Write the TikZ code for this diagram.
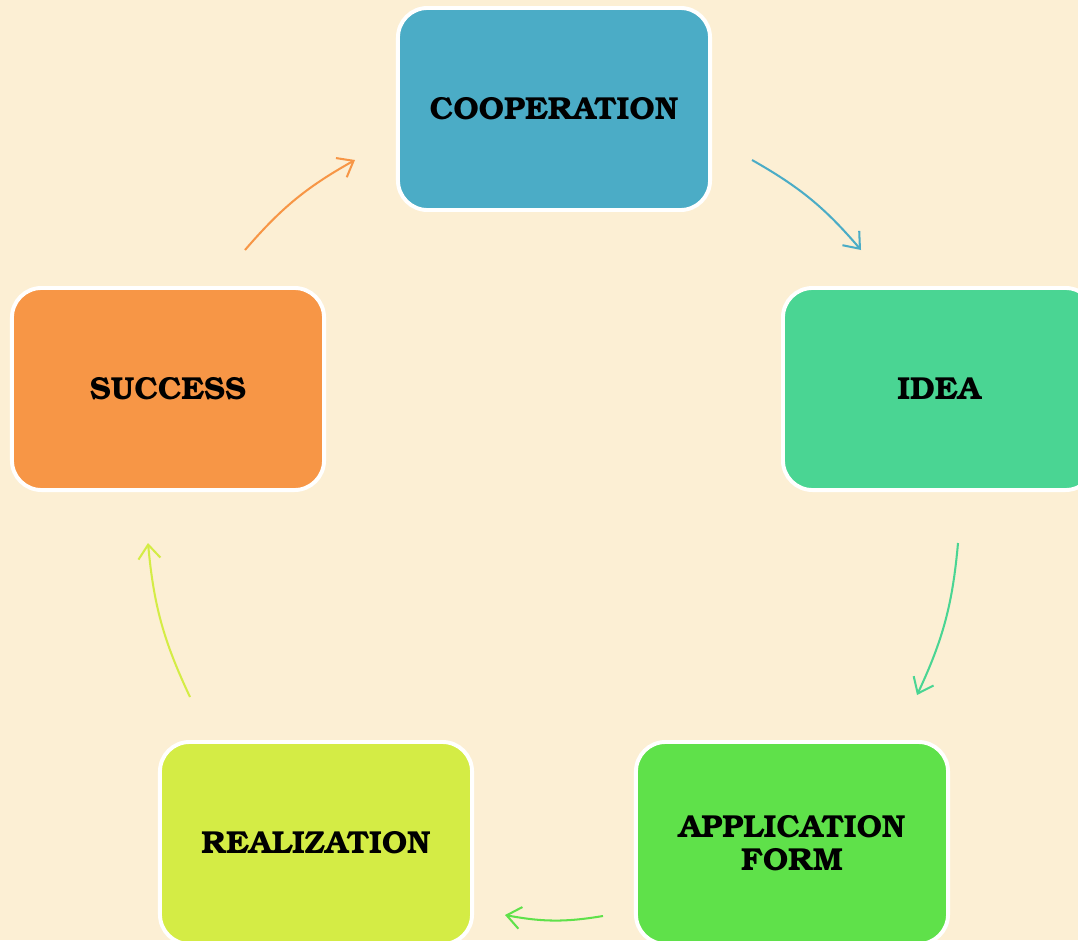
\documentclass[tikz,border=0pt]{standalone}
\usepackage[T1]{fontenc}
\usepackage{bookman}
\usepackage{xcolor}
\usetikzlibrary{arrows.meta}

\definecolor{paper}{RGB}{252,239,212}
\definecolor{coopblue}{RGB}{75,172,198}
\definecolor{ideagreen}{RGB}{74,213,147}
\definecolor{formgreen}{RGB}{95,225,74}
\definecolor{realyellow}{RGB}{212,236,69}
\definecolor{succorange}{RGB}{247,150,70}

\tikzset{
  stage/.style={rectangle, rounded corners=21pt, draw=white, line width=2.8pt,
    minimum width=7.8cm, minimum height=5.05cm, align=center,
    font=\fontsize{22.6}{23}\selectfont\bfseries},
  flow/.style={line width=1.45pt, -{Straight Barb[length=3.5mm,width=5.5mm]}}
}

\begin{document}
\begin{tikzpicture}[x=0.025cm, y=-0.025cm]
\useasboundingbox (0,0) rectangle (1078,940);
\clip (0,0) rectangle (1078,940);
\fill [paper] (0,0) rectangle (1078,940);

% the five stages
\node [stage, fill=coopblue]   (coop) at (554,109) {COOPERATION};
\node [stage, fill=ideagreen]  (idea) at (939,389) {IDEA};
\node [stage, fill=formgreen]  (form) at (792,843) {APPLICATION\\FORM};
\node [stage, fill=realyellow] (real) at (316,843) {REALIZATION};
\node [stage, fill=succorange] (succ) at (168,389) {SUCCESS};

% arrow ends
\coordinate (cs) at (752,160);  \coordinate (ce) at (861,250);
\coordinate (is) at (958,543);  \coordinate (ie) at (917,695);
\coordinate (fs) at (603,916);  \coordinate (fe) at (505,915);
\coordinate (rs) at (190,697);  \coordinate (re) at (148,543);
\coordinate (ss) at (245,250);  \coordinate (se) at (355,160);

\draw [flow, coopblue]   (cs) to [bend left=10] (ce);
\draw [flow, ideagreen]  (is) to [bend left=10] (ie);
\draw [flow, formgreen]  (fs) to [bend left=10] (fe);
\draw [flow, realyellow] (rs) to [bend left=10] (re);
\draw [flow, succorange] (ss) to [bend left=10] (se);
\end{tikzpicture}
\end{document}
